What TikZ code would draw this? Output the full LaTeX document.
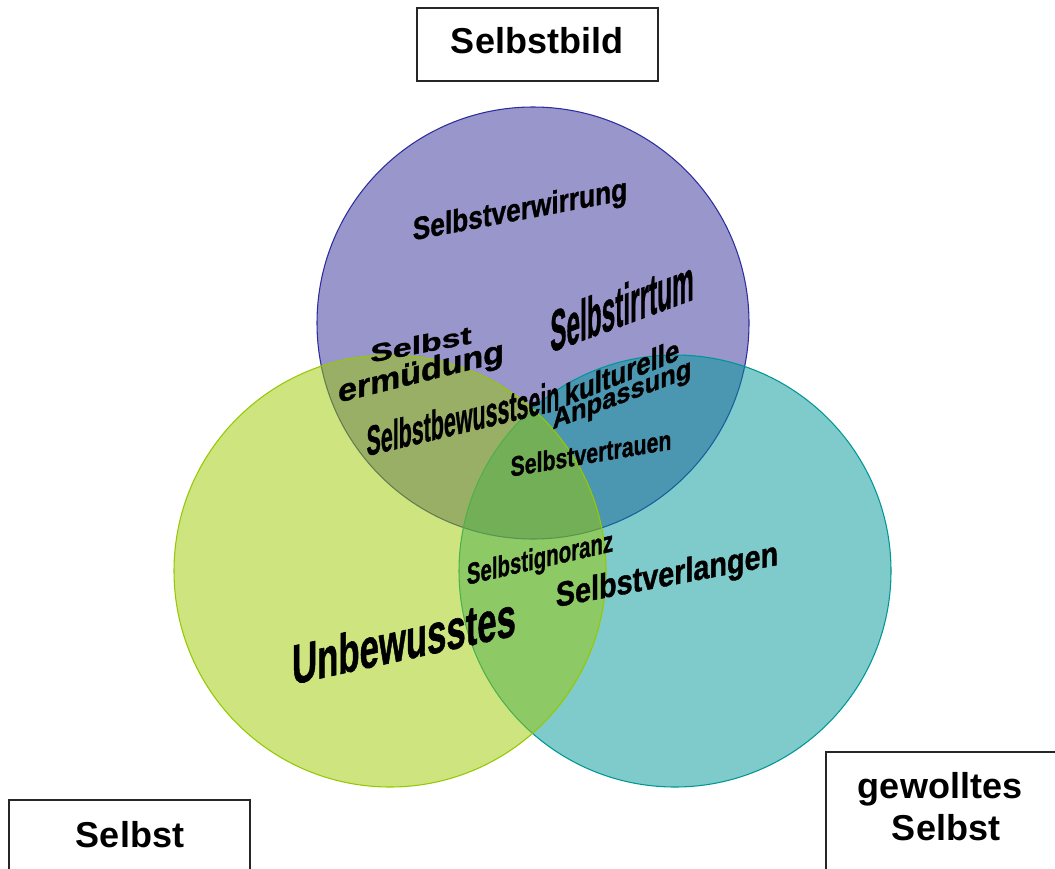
\documentclass[tikz,border=0pt]{standalone}
\usepackage{fontspec}
\setmainfont{Liberation Sans}
\newfontfamily\wortfont{Liberation Sans Bold}[FakeBold=1.2]
\usetikzlibrary{positioning}
\definecolor{bildfill}{RGB}{50,45,150}
\definecolor{bildrand}{RGB}{45,45,160}
\definecolor{selbstfill}{RGB}{155,202,0}
\definecolor{selbstrand}{RGB}{150,200,0}
\definecolor{wunschfill}{RGB}{0,150,152}
\definecolor{wunschrand}{RGB}{0,150,150}
\begin{document}
\begin{tikzpicture}[x=0.75pt, y=-0.75pt,
  kreis/.style={fill opacity=0.5, line width=0.8pt},
  box/.style={draw=black!85, line width=1.1pt},
  boxtext/.style={anchor=base, inner sep=0pt, font=\fontsize{27}{31}\selectfont\bfseries},
  wort/.style n args={3}{anchor=base, inner sep=0pt, font=\fontsize{#1}{#1}\selectfont\wortfont, yslant=#3, xscale=#2}]
  \useasboundingbox (0,0) rectangle (1055,868);
  \clip (0,0) rectangle (1055,868);
  \draw [kreis, draw=bildrand, fill=bildfill] (533,323) circle [radius=216];
  \draw [kreis, draw=wunschrand, fill=wunschfill] (675,571) circle [radius=216];
  \draw [kreis, draw=selbstrand, fill=selbstfill] (390,571) circle [radius=216];
  \draw [box] (417,8) rectangle (658,81);
  \draw [box] (9,800) rectangle (250,900);
  \draw [box] (826,752) rectangle (1090,900);
  \node (bild) at (537,53) [boxtext] {Selbstbild};
  \node (selbst) at (130,847) [boxtext] {Selbst};
  \node (gewollt) at (940,798) [boxtext] {gewolltes};
  \node (gewselbst) at (946,840) [boxtext] {Selbst};
  \node (verwirrung) at (520,220) [wort={24}{0.82}{0.19}] {Selbstverwirrung};
  \node (irrtum) at (622,326) [wort={43.5}{0.42}{0.37}] {Selbstirrtum};
  \node (ermA) at (421,353) [wort={18.75}{1.35}{0.19}] {Selbst};
  \node (ermB) at (421,382) [wort={24}{1.06}{0.25}] {ermüdung};
  \node (bewusst) at (463,433) [wort={31.5}{0.51}{0.24}] {Selbstbewusstsein};
  \node (kultur) at (622,383) [wort={23}{0.84}{0.41}] {kulturelle};
  \node (anpass) at (622,403) [wort={21}{0.91}{0.38}] {Anpassung};
  \node (vertrauen) at (591,463) [wort={21}{0.76}{0.17}] {Selbstvertrauen};
  \node (ignoranz) at (540,568) [wort={22.5}{0.68}{0.23}] {Selbstignoranz};
  \node (verlangen) at (667,586) [wort={26}{0.83}{0.19}] {Selbstverlangen};
  \node (unbewusst) at (404,660) [wort={42}{0.62}{0.22}] {Unbewusstes};
\end{tikzpicture}
\end{document}
